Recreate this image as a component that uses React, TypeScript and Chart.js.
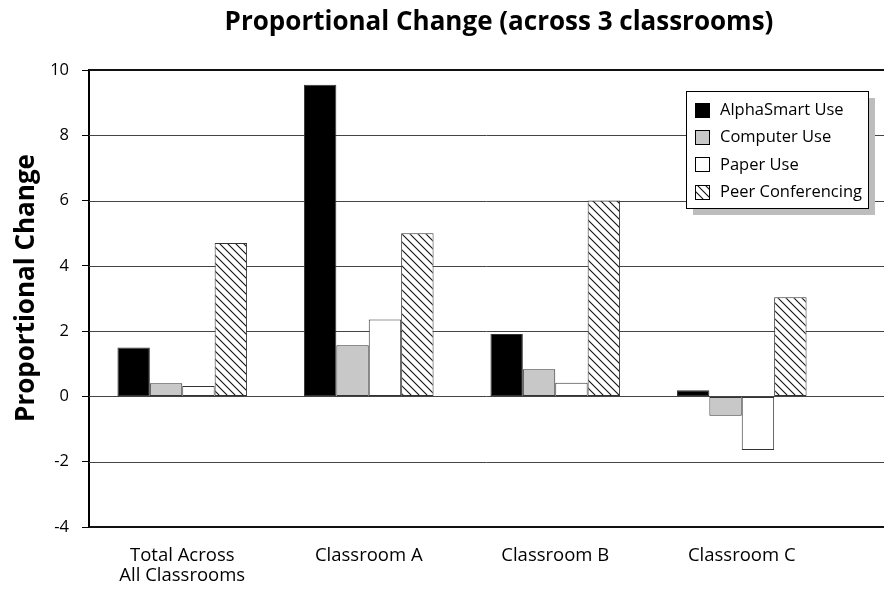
import React, { useEffect, useRef } from "react";
import { Chart, registerables } from "chart.js";

Chart.register(...registerables);

const TITLE = "Proportional Change (across 3 classrooms)";
const Y_TITLE = "Proportional Change";
const categories: (string | string[])[] = [
  ["Total Across", "All Classrooms"],
  "Classroom A",
  "Classroom B",
  "Classroom C",
];
const seriesNames = ["AlphaSmart Use", "Computer Use", "Paper Use", "Peer Conferencing"];
const alphaSmartUse = [1.5, 9.55, 1.91, 0.19];
const computerUse = [0.4, 1.57, 0.83, -0.59];
const paperUse = [0.32, 2.36, 0.42, -1.64];
const peerConferencing = [4.7, 5.0, 6.0, 3.04];
const yTicks = [-4, -2, 0, 2, 4, 6, 8, 10];

const FONT = "'Open Sans', sans-serif";

function makeHatch(): CanvasPattern | string {
  const c = document.createElement("canvas");
  c.width = 8;
  c.height = 8;
  const g = c.getContext("2d");
  if (!g) return "#fff";
  g.fillStyle = "#fff";
  g.fillRect(0, 0, 8, 8);
  g.strokeStyle = "#111";
  g.lineWidth = 1.1;
  g.beginPath();
  g.moveTo(-1, -1);
  g.lineTo(9, 9);
  g.moveTo(-1, 7);
  g.lineTo(1, 9);
  g.moveTo(7, -1);
  g.lineTo(9, 1);
  g.stroke();
  return g.createPattern(c, "repeat") || "#fff";
}

const gridPlugin = {
  id: "fullGrid",
  beforeDatasetsDraw(chart: any) {
    const { ctx, chartArea, scales } = chart;
    const y = scales.y;
    ctx.save();
    y.ticks.forEach((t: any) => {
      const py = Math.round(y.getPixelForValue(t.value));
      const edge = t.value === y.min || t.value === y.max;
      ctx.strokeStyle = edge ? "#111" : "#444";
      ctx.lineWidth = edge ? 2 : 1;
      const yy = edge ? py : py + 0.5;
      ctx.beginPath();
      ctx.moveTo(chartArea.left, yy);
      ctx.lineTo(chart.width, yy);
      ctx.stroke();
    });
    ctx.restore();
  },
};

const textPlugin = {
  id: "texts",
  afterDraw(chart: any) {
    const { ctx } = chart;
    ctx.save();
    // main title
    ctx.fillStyle = "#000";
    ctx.font = `bold 26px ${FONT}`;
    ctx.textAlign = "center";
    ctx.textBaseline = "alphabetic";
    ctx.fillText(TITLE, 499, 30);
    // y title
    ctx.save();
    ctx.translate(34, 288);
    ctx.rotate(-Math.PI / 2);
    ctx.fillText(Y_TITLE, 0, 0);
    ctx.restore();

    // legend
    const bx = 686, by = 91, bw = 182, bh = 117;
    ctx.fillStyle = "#bdbdbd";
    ctx.fillRect(bx + 7, by + 7, bw, bh);
    ctx.fillStyle = "#fff";
    ctx.fillRect(bx, by, bw, bh);
    ctx.strokeStyle = "#000";
    ctx.lineWidth = 1;
    ctx.strokeRect(bx + 0.5, by + 0.5, bw, bh);
    ctx.font = `16.5px ${FONT}`;
    ctx.textAlign = "left";
    ctx.textBaseline = "middle";
    chart.data.datasets.forEach((ds: any, i: number) => {
      const cy = 110 + i * 27.4;
      const sx = 695, sy = Math.round(cy - 7.5);
      ctx.fillStyle = ds.backgroundColor;
      ctx.fillRect(sx, sy, 15, 15);
      ctx.strokeStyle = "#000";
      ctx.strokeRect(sx + 0.5, sy + 0.5, 14, 14);
      ctx.fillStyle = "#000";
      ctx.fillText(ds.label, 720, cy);
    });
    ctx.restore();
  },
};

export default function App() {
  const ref = useRef<HTMLCanvasElement | null>(null);
  useEffect(() => {
    if (!ref.current) return;
    const hatch = makeHatch();
    const base = { borderColor: "#333", borderWidth: 1, borderSkipped: false as const };
    const chart = new Chart(ref.current, {
      type: "bar",
      data: {
        labels: categories as any,
        datasets: [
          { label: seriesNames[0], data: alphaSmartUse, backgroundColor: "#000", ...base },
          { label: seriesNames[1], data: computerUse, backgroundColor: "#c8c8c8", ...base },
          { label: seriesNames[2], data: paperUse, backgroundColor: "#fff", ...base },
          { label: seriesNames[3], data: peerConferencing, backgroundColor: hatch as any, ...base },
        ],
      },
      options: {
        responsive: false,
        animation: false,
        devicePixelRatio: 1,
        layout: { padding: { top: 70, right: 49, left: 0, bottom: 0 } },
        datasets: { bar: { categoryPercentage: 0.695, barPercentage: 1 } },
        plugins: {
          legend: { display: false },
          title: { display: false },
          tooltip: { enabled: false },
        },
        scales: {
          x: {
            grid: { display: false },
            border: { display: false },
            ticks: {
              color: "#000",
              font: { family: FONT, size: 18.5, lineHeight: 1.08 },
              padding: 11,
              maxRotation: 0,
              autoSkip: false,
            },
            afterFit: (s: any) => {
              s.height = 63;
            },
          },
          y: {
            min: -4,
            max: 10,
            ticks: {
              stepSize: 2,
              color: "#000",
              font: { family: FONT, size: 16.5 },
              padding: 13,
            },
            afterBuildTicks: (s: any) => {
              s.ticks = yTicks.map((v) => ({ value: v }));
            },
            grid: { drawOnChartArea: false, drawTicks: true, tickLength: 7, color: "#000", lineWidth: 1 },
            border: { display: true, color: "#000", width: 2 },
            afterFit: (s: any) => {
              s.width = 89;
            },
          },
        },
      },
      plugins: [gridPlugin, textPlugin],
    });
    return () => chart.destroy();
  }, []);
  return (
    <div style={{ position: "fixed", left: 0, top: 0, width: 884, height: 590, background: "#fff" }}>
      <canvas ref={ref} width={884} height={590} style={{ display: "block" }} />
    </div>
  );
}
